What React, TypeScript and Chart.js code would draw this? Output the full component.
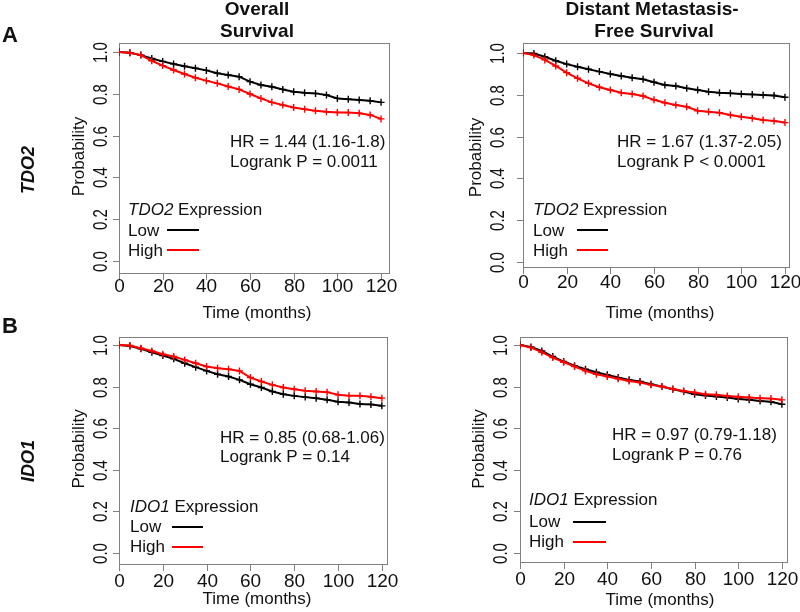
import React, { useEffect, useRef } from "react";
import { Chart, registerables } from "chart.js";
Chart.register(...registerables);

// ---------- data ----------
const months = [0, 5, 10, 15, 20, 25, 30, 35, 40, 45, 50, 55, 60, 65, 70, 75, 80, 85, 90, 95, 100, 105, 110, 115, 120];
const xTicks = [0, 20, 40, 60, 80, 100, 120];
const xTickLabels = ["0", "20", "40", "60", "80", "100", "120"];
const yTicks = [0, 0.2, 0.4, 0.6, 0.8, 1.0];
const yTickLabels = ["0.0", "0.2", "0.4", "0.6", "0.8", "1.0"];
const groupLabels = ["Low", "High"];

const tdo2OsLow = [1.0, 0.996, 0.985, 0.969, 0.955, 0.943, 0.932, 0.922, 0.912, 0.898, 0.89, 0.882, 0.858, 0.842, 0.834, 0.821, 0.81, 0.805, 0.802, 0.794, 0.778, 0.774, 0.77, 0.767, 0.759];
const tdo2OsHigh = [1.0, 0.996, 0.985, 0.958, 0.935, 0.914, 0.895, 0.877, 0.863, 0.85, 0.835, 0.821, 0.799, 0.778, 0.759, 0.746, 0.734, 0.726, 0.719, 0.714, 0.711, 0.71, 0.707, 0.699, 0.68];
const tdo2DmfsLow = [1.0, 0.998, 0.982, 0.963, 0.947, 0.934, 0.922, 0.911, 0.9, 0.89, 0.882, 0.874, 0.86, 0.847, 0.842, 0.831, 0.823, 0.815, 0.81, 0.807, 0.804, 0.802, 0.799, 0.797, 0.788];
const tdo2DmfsHigh = [1.0, 0.99, 0.967, 0.938, 0.906, 0.879, 0.855, 0.836, 0.823, 0.81, 0.804, 0.794, 0.776, 0.762, 0.751, 0.743, 0.724, 0.719, 0.714, 0.703, 0.695, 0.688, 0.679, 0.675, 0.667];
const ido1OsLow = [1.0, 0.995, 0.981, 0.965, 0.949, 0.933, 0.912, 0.893, 0.875, 0.859, 0.848, 0.832, 0.811, 0.795, 0.776, 0.763, 0.755, 0.749, 0.744, 0.736, 0.727, 0.723, 0.716, 0.714, 0.707];
const ido1OsHigh = [1.0, 0.997, 0.984, 0.971, 0.955, 0.944, 0.928, 0.912, 0.896, 0.888, 0.883, 0.875, 0.843, 0.824, 0.808, 0.795, 0.787, 0.78, 0.776, 0.773, 0.76, 0.756, 0.755, 0.751, 0.744];
const ido1DmfsLow = [1.0, 0.99, 0.971, 0.944, 0.92, 0.9, 0.883, 0.869, 0.856, 0.843, 0.832, 0.824, 0.811, 0.8, 0.787, 0.776, 0.763, 0.757, 0.752, 0.747, 0.74, 0.736, 0.731, 0.727, 0.715];
const ido1DmfsHigh = [1.0, 0.987, 0.965, 0.939, 0.917, 0.896, 0.875, 0.859, 0.848, 0.837, 0.827, 0.819, 0.808, 0.8, 0.788, 0.779, 0.771, 0.763, 0.76, 0.755, 0.751, 0.747, 0.744, 0.742, 0.736];

const hrTexts = ["HR = 1.44 (1.16-1.8)", "HR = 1.67 (1.37-2.05)", "HR = 0.85 (0.68-1.06)", "HR = 0.97 (0.79-1.18)"];
const pTexts = ["Logrank P = 0.0011", "Logrank P < 0.0001", "Logrank P = 0.14", "Logrank P = 0.76"];
const genes = ["TDO2", "TDO2", "IDO1", "IDO1"];
const columnTitles = [["Overall", "Survival"], ["Distant Metastasis-", "Free Survival"]];
const rowLetters = ["A", "B"];
const rowGenes = ["TDO2", "IDO1"];
const yAxisTitle = "Probability";
const xAxisTitle = "Time (months)";

// ---------- layout / style ----------
const FONT = '"Liberation Sans", Arial, Helvetica, sans-serif';
const W = 800;
const H = 612;
const BLACK = "#000000";
const RED = "#ff0000";
const BOX = "#808080";

const panels = [
  { low: tdo2OsLow, high: tdo2OsHigh, l: 119, r: 390, t: 43, b: 274, xMax: 124.1, yMin: -0.062, yMax: 1.043,
    yTickX: 102, xTickY: 287, probX: 79, timeX: 257, timeY: 313, hrX: 230, hrY: 147, pY: 167,
    legX: 128, legHeadY: 215, lowY: 236, highY: 256, lx1: 167, lx2: 199, lowLineY: 230, highLineY: 250 },
  { low: tdo2DmfsLow, high: tdo2DmfsHigh, l: 523, r: 790, t: 43, b: 268, xMax: 122.3, yMin: -0.029, yMax: 1.048,
    yTickX: 499, xTickY: 283, probX: 476, timeX: 660, timeY: 313, hrX: 617, hrY: 147, pY: 167,
    legX: 533, legHeadY: 215, lowY: 236, highY: 256, lx1: 577, lx2: 608, lowLineY: 230, highLineY: 250 },
  { low: ido1OsLow, high: ido1OsHigh, l: 119, r: 388, t: 337, b: 565, xMax: 122.8, yMin: -0.058, yMax: 1.038,
    yTickX: 102, xTickY: 582, probX: 79, timeX: 257, timeY: 599, hrX: 220, hrY: 443, pY: 462,
    legX: 130, legHeadY: 512, lowY: 532, highY: 552, lx1: 172, lx2: 203, lowLineY: 527, highLineY: 547 },
  { low: ido1DmfsLow, high: ido1DmfsHigh, l: 520, r: 788, t: 337, b: 563, xMax: 122.8, yMin: -0.048, yMax: 1.038,
    yTickX: 502, xTickY: 580, probX: 479, timeX: 660, timeY: 600, hrX: 612, hrY: 440, pY: 460,
    legX: 529, legHeadY: 505, lowY: 527, highY: 547, lx1: 573, lx2: 606, lowLineY: 522, highLineY: 542 },
];

function drawText(ctx: CanvasRenderingContext2D, s: string, x: number, y: number, size: number, o: any = {}) {
  ctx.save();
  ctx.font = `${o.style || "normal"} ${o.weight || "normal"} ${size}px ${FONT}`;
  ctx.fillStyle = o.color || "#111111";
  ctx.textAlign = o.align || "left";
  ctx.textBaseline = o.baseline || "alphabetic";
  ctx.translate(x, y);
  if (o.sx) ctx.scale(o.sx, 1);
  if (o.rot) ctx.rotate(o.rot);
  ctx.fillText(s, 0, 0);
  ctx.restore();
}

function panelPlugin(p: any, idx: number) {
  return {
    id: "panelDecor" + idx,
    beforeDatasetsDraw(chart: any) {
      const ctx: CanvasRenderingContext2D = chart.ctx;
      const a = chart.chartArea;
      ctx.save();
      ctx.strokeStyle = BOX;
      ctx.lineWidth = 1;
      ctx.strokeRect(a.left + 0.5, a.top + 0.5, a.right - a.left - 1, a.bottom - a.top - 1);
      ctx.restore();
    },
    afterDraw(chart: any) {
      const ctx: CanvasRenderingContext2D = chart.ctx;
      const a = chart.chartArea;
      const xs = chart.scales.x;
      const ys = chart.scales.y;
      ctx.save();
      ctx.strokeStyle = BOX;
      ctx.lineWidth = 1;
      // y ticks
      yTicks.forEach((v, i) => {
        const py = Math.round(ys.getPixelForValue(v)) + 0.5;
        ctx.beginPath();
        ctx.moveTo(a.left - 6, py);
        ctx.lineTo(a.left, py);
        ctx.stroke();
        drawText(ctx, yTickLabels[i], p.yTickX, py, 15, { align: "center", baseline: "middle", rot: -Math.PI / 2, sx: 1.3 });
      });
      // x ticks
      xTicks.forEach((v, i) => {
        const px = Math.round(xs.getPixelForValue(v)) + 0.5;
        ctx.beginPath();
        ctx.moveTo(px, a.bottom);
        ctx.lineTo(px, a.bottom + 6);
        ctx.stroke();
        drawText(ctx, xTickLabels[i], px, p.xTickY, 19, { align: "center", baseline: "middle" });
      });
      ctx.restore();
      // axis titles
      drawText(ctx, yAxisTitle, p.probX, ys.getPixelForValue(0.5), 17, { align: "center", baseline: "middle", rot: -Math.PI / 2 });
      drawText(ctx, xAxisTitle, p.timeX, p.timeY, 17, { align: "center", baseline: "middle" });
      // stats
      drawText(ctx, hrTexts[idx], p.hrX, p.hrY, 17);
      drawText(ctx, pTexts[idx], p.hrX, p.pY, 17);
      // legend
      ctx.save();
      ctx.font = `italic normal 17px ${FONT}`;
      const gw = ctx.measureText(genes[idx]).width;
      ctx.restore();
      drawText(ctx, genes[idx], p.legX, p.legHeadY, 17, { style: "italic" });
      drawText(ctx, " Expression", p.legX + gw, p.legHeadY, 17);
      drawText(ctx, groupLabels[0], p.legX, p.lowY, 17);
      drawText(ctx, groupLabels[1], p.legX, p.highY, 17);
      ctx.save();
      ctx.lineWidth = 2;
      ctx.strokeStyle = BLACK;
      ctx.beginPath();
      ctx.moveTo(p.lx1, p.lowLineY);
      ctx.lineTo(p.lx2, p.lowLineY);
      ctx.stroke();
      ctx.strokeStyle = RED;
      ctx.beginPath();
      ctx.moveTo(p.lx1, p.highLineY);
      ctx.lineTo(p.lx2, p.highLineY);
      ctx.stroke();
      ctx.restore();
    },
  };
}

const figurePlugin = {
  id: "figureLabels",
  afterDraw(chart: any) {
    const ctx: CanvasRenderingContext2D = chart.ctx;
    drawText(ctx, columnTitles[0][0], 257, 15, 19, { weight: "bold", align: "center" });
    drawText(ctx, columnTitles[0][1], 257, 37, 19, { weight: "bold", align: "center" });
    drawText(ctx, columnTitles[1][0], 652, 15, 19, { weight: "bold", align: "center" });
    drawText(ctx, columnTitles[1][1], 654, 37, 19, { weight: "bold", align: "center" });
    drawText(ctx, rowLetters[0], 2, 42, 22, { weight: "bold" });
    drawText(ctx, rowLetters[1], 2, 333, 22, { weight: "bold" });
    drawText(ctx, rowGenes[0], 29, 170, 18, { weight: "bold", style: "italic", align: "center", baseline: "middle", rot: -Math.PI / 2 });
    drawText(ctx, rowGenes[1], 29, 461, 18, { weight: "bold", style: "italic", align: "center", baseline: "middle", rot: -Math.PI / 2 });
  },
};

function makeConfig(p: any, idx: number): any {
  const series = (arr: number[]) => months.map((m, i) => ({ x: m, y: arr[i] }));
  const ds = (label: string, arr: number[], color: string) => ({
    label,
    data: series(arr),
    borderColor: color,
    backgroundColor: color,
    borderWidth: 2,
    pointStyle: "cross",
    pointRadius: 3.5,
    pointBorderWidth: 1.4,
    pointBorderColor: color,
    tension: 0,
    fill: false,
  });
  return {
    type: "line",
    data: {
      datasets: [ds(groupLabels[1], p.high, RED), ds(groupLabels[0], p.low, BLACK)],
    },
    options: {
      animation: false,
      responsive: false,
      devicePixelRatio: 1,
      layout: { padding: { left: p.l, top: p.t, right: W - p.r, bottom: H - p.b } },
      plugins: { legend: { display: false }, tooltip: { enabled: false }, title: { display: false } },
      scales: {
        x: { type: "linear", min: 0, max: p.xMax, display: false },
        y: { type: "linear", min: p.yMin, max: p.yMax, display: false },
      },
    },
    plugins: idx === 0 ? [panelPlugin(p, idx), figurePlugin] : [panelPlugin(p, idx)],
  };
}

export default function App() {
  const refs = useRef<(HTMLCanvasElement | null)[]>([]);
  useEffect(() => {
    const charts = panels.map((p, i) => new Chart(refs.current[i] as HTMLCanvasElement, makeConfig(p, i)));
    return () => charts.forEach((c) => c.destroy());
  }, []);
  return (
    <div style={{ position: "fixed", left: 0, top: 0, width: W, height: H, background: "#ffffff" }}>
      {panels.map((p, i) => (
        <canvas
          key={i}
          ref={(el) => {
            refs.current[i] = el;
          }}
          width={W}
          height={H}
          style={{ position: "absolute", left: 0, top: 0, width: W, height: H }}
        />
      ))}
    </div>
  );
}
